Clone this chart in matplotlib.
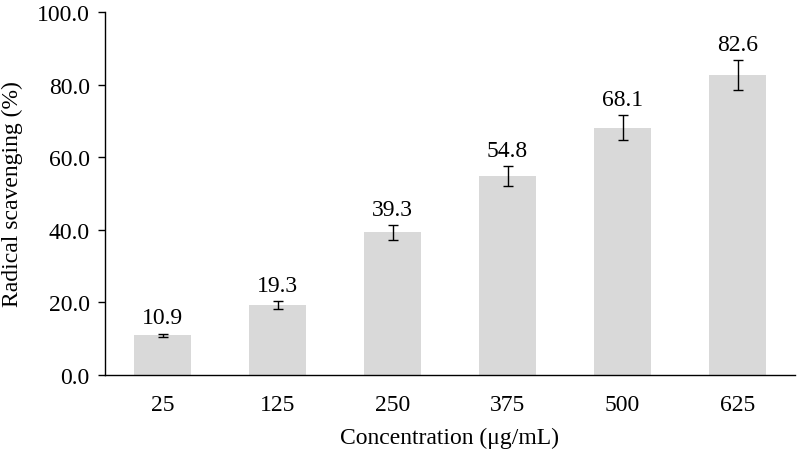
import matplotlib
matplotlib.use("Agg")
import matplotlib.pyplot as plt
import numpy as np

categories = ["25", "125", "250", "375", "500", "625"]
values = [10.9, 19.3, 39.3, 54.8, 68.1, 82.6]
errors = [0.5, 1.0, 2.0, 2.7, 3.4, 4.1]
yticks = [0, 20, 40, 60, 80, 100]

plt.rcParams['font.family'] = ['Liberation Serif', 'DejaVu Serif']
fs = 17
fig = plt.figure(figsize=(7.99, 4.52), dpi=100)
ax = fig.add_axes([105/799, (452-376)/452, 690/799, (376-13)/452])
x = np.arange(len(categories))
ax.bar(x, values, width=0.5, color='#d9d9d9', yerr=errors,
       error_kw=dict(ecolor='black', elinewidth=1, capsize=3.8, capthick=1), zorder=2)
for xi, v, e in zip(x, values, errors):
    ax.text(xi, v + e + 1.5, f"{v:.1f}", ha='center', va='bottom', fontsize=fs)
ax.set_xlim(-0.5, len(categories) - 0.5)
ax.set_ylim(0, 100)
ax.set_yticks(yticks)
ax.set_yticklabels([f"{t:.1f}" for t in yticks], fontsize=fs)
ax.set_xticks(x)
ax.set_xticklabels(categories, fontsize=fs)
ax.tick_params(axis='x', length=0, pad=14)
ax.tick_params(axis='y', length=5, width=1, direction='out', pad=6)
for s in ['top', 'right']:
    ax.spines[s].set_visible(False)
ax.spines['left'].set_linewidth(1)
ax.spines['bottom'].set_linewidth(1)
ax.set_xlabel("Concentration (\u03bcg/mL)", fontsize=fs, labelpad=8)
ax.set_ylabel("Radical scavenging (%)", fontsize=fs, labelpad=10)
fig.savefig("out.png", dpi=100)
